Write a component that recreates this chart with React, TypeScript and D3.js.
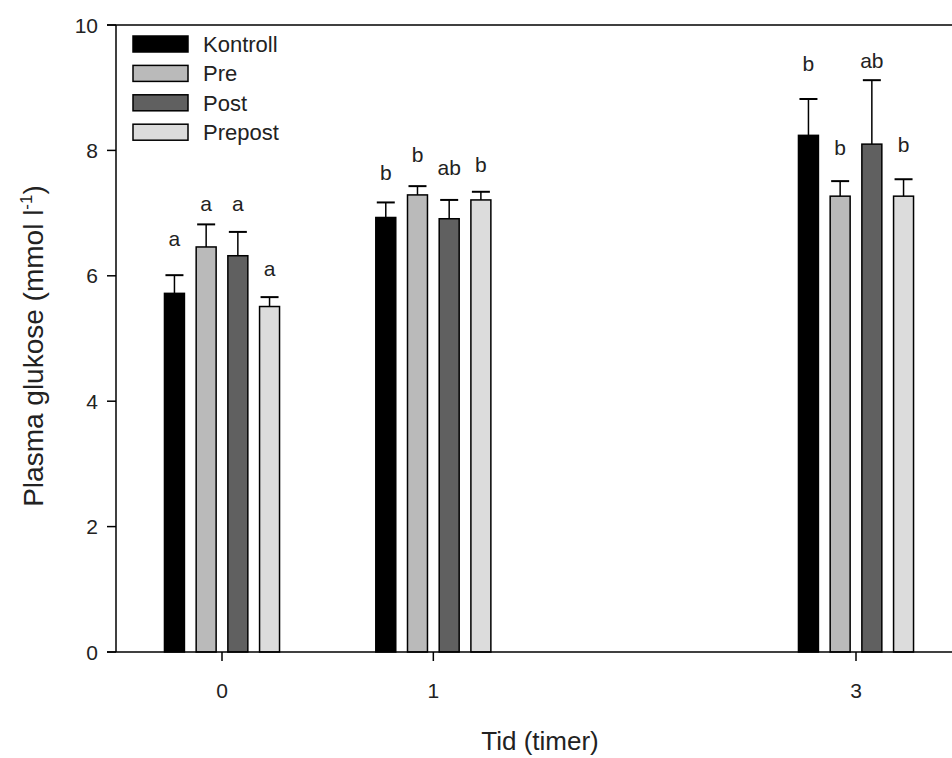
import React from "react";
import * as d3 from "d3";

const timePoints = [0, 1, 3];
const seriesNames = ["Kontroll", "Pre", "Post", "Prepost"];
const seriesColors = ["#000000", "#bababa", "#606060", "#dcdcdc"];

// mean values per series, per time point (0,1,3)
const kontrollMean = [5.72, 6.93, 8.24];
const preMean = [6.46, 7.29, 7.27];
const postMean = [6.32, 6.91, 8.1];
const prepostMean = [5.51, 7.21, 7.27];

// upper error (SE) per series
const kontrollErr = [0.29, 0.24, 0.58];
const preErr = [0.36, 0.14, 0.24];
const postErr = [0.38, 0.3, 1.02];
const prepostErr = [0.15, 0.13, 0.27];

// significance letters and their vertical placement (data units)
const kontrollLetters = ["a", "b", "b"];
const preLetters = ["a", "b", "b"];
const postLetters = ["a", "ab", "ab"];
const prepostLetters = ["a", "b", "b"];
const kontrollLetterY = [6.6, 7.64, 9.39];
const preLetterY = [7.16, 7.93, 8.05];
const postLetterY = [7.16, 7.72, 9.43];
const prepostLetterY = [6.11, 7.77, 8.09];

const yTicks = [0, 2, 4, 6, 8, 10];

const means = [kontrollMean, preMean, postMean, prepostMean];
const errs = [kontrollErr, preErr, postErr, prepostErr];
const letters = [kontrollLetters, preLetters, postLetters, prepostLetters];
const letterYs = [kontrollLetterY, preLetterY, postLetterY, prepostLetterY];

const W = 952;
const H = 758;
const FONT = "Arial, 'Liberation Sans', Helvetica, sans-serif";
const TXT = "#222";

export default function App() {
  const axisX = 116;
  const y = d3.scaleLinear().domain([0, 10]).range([652, 25]);
  const x = d3.scaleLinear().domain([0, 3]).range([222, 856]);
  const band = d3
    .scaleBand<string>()
    .domain(seriesNames)
    .range([-63.4, 63.4])
    .paddingInner(0.37)
    .paddingOuter(0.185);
  const bw = band.bandwidth();
  const capW = 18;

  return (
    <svg
      width={W}
      height={H}
      style={{ position: "absolute", left: 0, top: 0, background: "#fff" }}
      fontFamily={FONT}
    >
      <rect x={0} y={0} width={W} height={H} fill="#fff" />
      {/* bars */}
      {seriesNames.map((s, si) =>
        timePoints.map((t, ti) => {
          const cx = x(t) + (band(s) as number) + bw / 2;
          const v = means[si][ti];
          const top = y(v);
          const capY = y(v + errs[si][ti]);
          return (
            <g key={s + t}>
              <line x1={cx} x2={cx} y1={top} y2={capY} stroke="#000" strokeWidth={1.5} />
              <line x1={cx - capW / 2} x2={cx + capW / 2} y1={capY} y2={capY} stroke="#000" strokeWidth={2} />
              <rect
                x={cx - bw / 2}
                y={top}
                width={bw}
                height={y(0) - top}
                fill={seriesColors[si]}
                stroke="#000"
                strokeWidth={1.5}
              />
              <text
                x={cx}
                y={y(letterYs[si][ti])}
                textAnchor="middle"
                dominantBaseline="central"
                fontSize={21}
                fill={TXT}
              >
                {letters[si][ti]}
              </text>
            </g>
          );
        })
      )}

      {/* frame lines */}
      <line x1={107} x2={W} y1={y(10)} y2={y(10)} stroke="#000" strokeWidth={1.5} />
      <line x1={107} x2={W} y1={y(0)} y2={y(0)} stroke="#000" strokeWidth={1.5} />
      <line x1={axisX} x2={axisX} y1={y(10)} y2={y(0)} stroke="#000" strokeWidth={1.5} />

      {/* y ticks */}
      {yTicks.map((t) => (
        <g key={t}>
          <line x1={107} x2={axisX} y1={y(t)} y2={y(t)} stroke="#000" strokeWidth={1.5} />
          <text
            x={98}
            y={y(t) + 7.5}
            textAnchor="end"
            fontSize={21}
            fill={TXT}
          >
            {t}
          </text>
        </g>
      ))}

      {/* x ticks */}
      {timePoints.map((t) => (
        <g key={t}>
          <line x1={x(t)} x2={x(t)} y1={y(0)} y2={y(0) + 9} stroke="#000" strokeWidth={1.5} />
          <text x={x(t)} y={698} textAnchor="middle" fontSize={21} fill={TXT}>
            {t}
          </text>
        </g>
      ))}

      {/* axis titles */}
      <text x={540} y={750} textAnchor="middle" fontSize={26} fill={TXT}>
        Tid (timer)
      </text>
      <text
        transform={`translate(43, 346) rotate(-90)`}
        textAnchor="middle"
        fontSize={28}
        fill={TXT}
      >
        Plasma glukose (mmol l
        <tspan fontSize={17} dy={-11}>-1</tspan>
        <tspan dy={11}>)</tspan>
      </text>

      {/* legend */}
      {seriesNames.map((s, i) => {
        const ly = 36 + i * 29.4;
        return (
          <g key={s}>
            <rect x={133} y={ly} width={55} height={16} fill={seriesColors[i]} stroke="#000" strokeWidth={1.5} />
            <text x={203} y={ly + 16} fontSize={22} fill={TXT}>
              {s}
            </text>
          </g>
        );
      })}
    </svg>
  );
}
